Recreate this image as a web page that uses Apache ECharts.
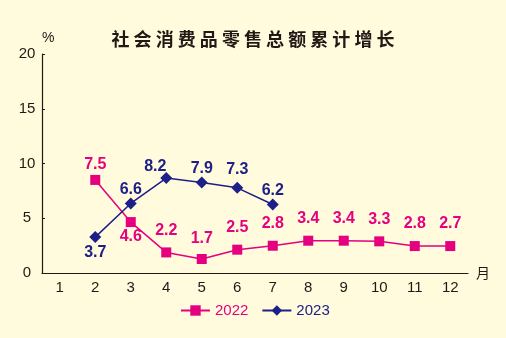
<!DOCTYPE html>
<html><head><meta charset="utf-8">
<script src="https://cdn.jsdelivr.net/npm/echarts@6/dist/echarts.min.js"></script>
<style>html,body{margin:0;padding:0;background:#fffbdc}#c{width:506px;height:338px}</style>
</head><body><div id="c"></div>
<script>
// ---- data ----
const months = ['1','2','3','4','5','6','7','8','9','10','11','12'];
// point heights as drawn in the reference
const values2022 = [null, 8.5, 4.65, 1.88, 1.28, 2.13, 2.49, 2.95, 2.95, 2.89, 2.46, 2.46];
const labels2022 = ['', '7.5', '4.6', '2.2', '1.7', '2.5', '2.8', '3.4', '3.4', '3.3', '2.8', '2.7'];
const values2023 = [null, 3.28, 6.35, 8.67, 8.27, 7.78, 6.26, null, null, null, null, null];
const labels2023 = ['', '3.7', '6.6', '8.2', '7.9', '7.3', '6.2', '', '', '', '', ''];
const seriesNames = ['2022', '2023'];
const titleText = '社 会 消 费 品 零 售 总 额 累 计 增 长';

// ---- style ----
const M = '#e4007f', N = '#1d2088', INK = '#231815';
const numFont = 'Liberation Sans';
const tweaks2022 = {1:{offset:[0,7]}, 2:{position:'bottom', distance:2}, 4:{offset:[0,2]}};
const tweaks2023 = {1:{position:'bottom', distance:2}, 3:{offset:[-11,3]}, 5:{offset:[0,-4]}};

function build(values, labels, tweaks){
  return values.map((v,i)=> v==null ? null : Object.assign({value:v}, tweaks[i] ? {label: tweaks[i]} : {}));
}

const chart = echarts.init(document.getElementById('c'), null, {renderer:'canvas'});
chart.setOption({
  backgroundColor:'#fffbdc',
  animation:false,
  title:{text:titleText, left:'center', top:25,
    textStyle:{fontSize:18, fontWeight:'bold', fontFamily:'Noto Sans CJK SC', color:INK}},
  grid:{left:42, right:38, top:54, bottom:65, containLabel:false},
  legend:{left:180, top:303, padding:0, itemWidth:29, itemHeight:13, itemGap:13,
    textStyle:{fontSize:15, fontFamily:numFont},
    data:[{name:seriesNames[0], textStyle:{color:M}}, {name:seriesNames[1], textStyle:{color:N}}]},
  xAxis:{type:'category', data:months, boundaryGap:true,
    name:'月', nameLocation:'end', nameGap:8,
    nameTextStyle:{fontSize:14, color:INK, fontFamily:'Noto Sans CJK SC'},
    axisLine:{lineStyle:{color:INK, width:1.2}},
    axisTick:{inside:true, length:4, lineStyle:{color:INK}},
    axisLabel:{fontSize:15, color:INK, fontFamily:numFont, margin:7}},
  yAxis:{type:'value', min:0, max:20, interval:5,
    name:'%', nameLocation:'end', nameGap:9,
    nameTextStyle:{fontSize:14, color:INK, fontFamily:numFont, align:'left'},
    axisLine:{show:true, lineStyle:{color:INK, width:1.2}},
    axisTick:{show:true, inside:true, length:3, lineStyle:{color:INK}},
    splitLine:{show:false},
    axisLabel:{fontSize:15, color:INK, fontFamily:numFont, margin:15, align:'center'}},
  series:[
    {name:seriesNames[0], type:'line', data:build(values2022, labels2022, tweaks2022),
     symbol:'rect', symbolSize:10, connectNulls:false,
     lineStyle:{color:M, width:1.5}, itemStyle:{color:M},
     label:{show:true, position:'top', distance:9, color:M, fontSize:16, fontWeight:'bold', fontFamily:numFont,
       formatter:p=>labels2022[p.dataIndex]}},
    {name:seriesNames[1], type:'line', data:build(values2023, labels2023, tweaks2023),
     symbol:'diamond', symbolSize:12,
     lineStyle:{color:N, width:1.5}, itemStyle:{color:N},
     label:{show:true, position:'top', distance:0, color:N, fontSize:16, fontWeight:'bold', fontFamily:numFont,
       formatter:p=>labels2023[p.dataIndex]}}
  ]
});
</script>
</body></html>
